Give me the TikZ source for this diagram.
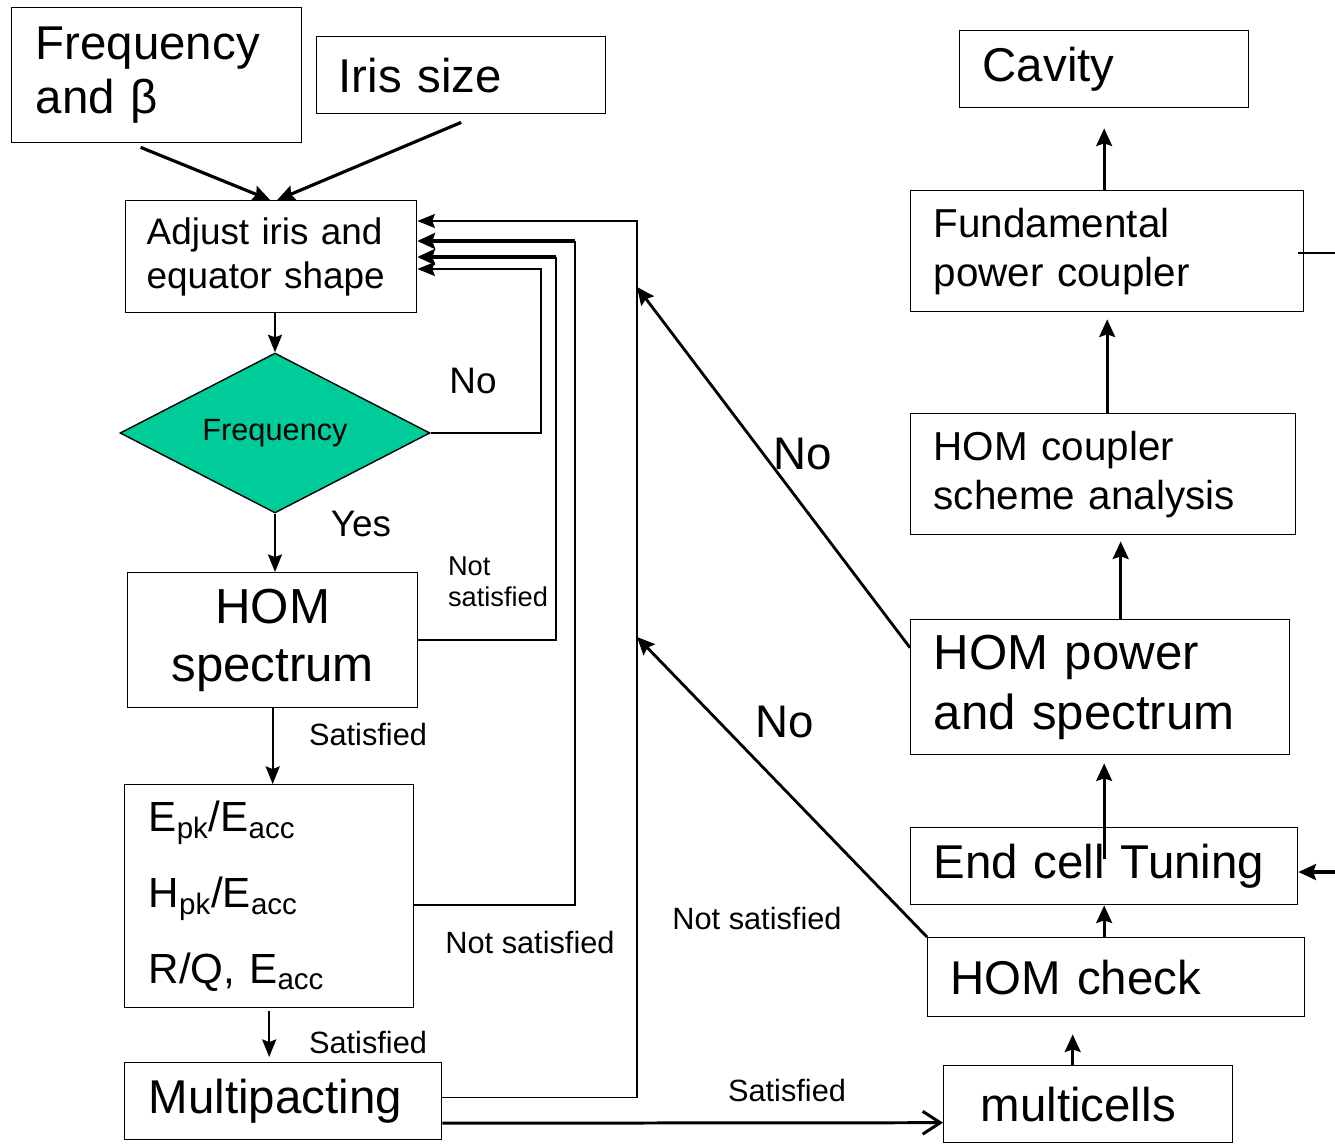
\documentclass[tikz,border=0pt]{standalone}
\usepackage{fontspec}
\setmainfont{Liberation Sans}
\usetikzlibrary{arrows.meta,positioning,shapes.geometric}
\definecolor{chkgreen}{RGB}{0,204,153}

\begin{document}
\begin{tikzpicture}
[x=0.02cm,y=-0.02cm,
box/.style={draw,line width=0.8pt,anchor=north west,align=left,inner ysep=0pt},
decision/.style={diamond,draw,fill=chkgreen,line width=0.8pt,aspect=1.94,minimum width=6.2cm,minimum height=3.2cm,inner sep=0pt,font=\fontsize{17.5}{20}\selectfont},
note/.style={inner sep=0pt,font=\fontsize{17.5}{20}\selectfont},
fb/.style={line width=0.8pt},
fbarrow/.style={line width=0.8pt,-{Stealth[length=10pt,width=8pt,inset=1.5pt]}},
go/.style={line width=1.8pt,-{Stealth[length=10pt,width=9pt,inset=1.5pt]}},
open/.style={line width=1.7pt,-{Straight Barb[length=10pt,width=13pt]}}]
\useasboundingbox (0,0) rectangle (1335,1143);

\node[box,text width=4.84cm,inner xsep=0.48cm,minimum height=2.7cm,font=\fontsize{27}{31}\selectfont] (freq) at (11,7) {Frequency\\and β};
\node[box,text width=4.9cm,inner xsep=0.44cm,minimum height=1.54cm,font=\fontsize{27}{31}\selectfont] (iris) at (316,36) {Iris size};
\node[box,text width=4.98cm,inner xsep=0.42cm,minimum height=2.24cm,font=\fontsize{21}{25}\selectfont] (adj) at (125,200) {Adjust iris and\\equator shape};
\node[decision] (fchk) at (275,433) {Frequency};
\node[box,align=center,minimum width=5.8cm,minimum height=2.7cm,font=\fontsize{28}{33}\selectfont] (homsp) at (127,572) {HOM\\spectrum};
\node[box,text width=4.82cm,inner xsep=0.48cm,minimum height=4.46cm,font=\fontsize{24}{43}\selectfont] (ratio) at (124,784)
  {E\textsubscript{pk}/E\textsubscript{acc}\\H\textsubscript{pk}/E\textsubscript{acc}\\R/Q, E\textsubscript{acc}};
\node[box,text width=5.38cm,inner xsep=0.48cm,minimum height=1.54cm,font=\fontsize{27}{31}\selectfont] (mp) at (124,1062) {Multipacting};

\node[box,text width=4.3cm,inner xsep=0.74cm,minimum height=1.54cm,font=\fontsize{27}{31}\selectfont] (mcell) at (943,1065) {multicells};
\node[box,text width=6.62cm,inner xsep=0.46cm,minimum height=1.58cm,font=\fontsize{27}{31}\selectfont] (homchk) at (927,937) {HOM check};
\node[box,text width=6.82cm,inner xsep=0.46cm,minimum height=1.54cm,font=\fontsize{27}{31}\selectfont] (endcell) at (910,827) {End cell Tuning};
\node[box,text width=6.66cm,inner xsep=0.46cm,minimum height=2.7cm,font=\fontsize{28}{34}\selectfont] (hompw) at (910,619) {HOM power\\and spectrum};
\node[box,text width=6.78cm,inner xsep=0.46cm,minimum height=2.42cm,font=\fontsize{23}{28}\selectfont] (homcpl) at (910,413) {HOM coupler\\scheme analysis};
\node[box,text width=6.94cm,inner xsep=0.46cm,minimum height=2.42cm,font=\fontsize{23}{28}\selectfont] (fpc) at (910,190) {Fundamental\\power coupler};
\node[box,text width=4.86cm,inner xsep=0.46cm,minimum height=1.54cm,font=\fontsize{27}{31}\selectfont] (cav) at (959,30) {Cavity};

\node[note,font=\fontsize{21}{24}\selectfont] (no1) at (473,381) {No};
\node[note,font=\fontsize{21}{24}\selectfont] (yes) at (361,524) {Yes};
\node[note,align=left,font=\fontsize{15.5}{17.6}\selectfont] (ns1) at (498,582) {Not\\satisfied};
\node[note] (sat1) at (368,734) {Satisfied};
\node[note] (ns2) at (530,942) {Not satisfied};
\node[note] (sat2) at (368,1042) {Satisfied};
\node[note] (sat3) at (787,1090) {Satisfied};
\node[note] (ns3) at (757,918) {Not satisfied};
\node[note,font=\fontsize{26}{30}\selectfont] (no2) at (803,454) {No};
\node[note,font=\fontsize{26}{30}\selectfont] (no3) at (785,722) {No};

\coordinate (r1) at (541,269);
\coordinate (r2) at (556,257);
\coordinate (r3) at (575,241);
\coordinate (r4) at (637,221);
\coordinate (n1) at (637,287);
\coordinate (n2) at (637,637);
\coordinate (ext1) at (1335,253);
\coordinate (ext2) at (1335,872);

\draw[go] ([xshift=-0.32cm,yshift=-0.08cm]freq.south) -- ([xshift=-0.02cm]adj.north);
\draw[go] ([yshift=-0.16cm]iris.south) -- ([xshift=0.12cm]adj.north);
\draw[fbarrow,line width=1.2pt] (fchk.north |- adj.south) -- (fchk.north);
\draw[fbarrow,line width=1.2pt] (fchk.south) -- (fchk.south |- homsp.north);
\draw[fbarrow,line width=1.2pt] (homsp.south) -- (homsp.south |- ratio.north);
\draw[fbarrow,line width=1.2pt,shorten <=0.06cm,shorten >=0.1cm] (ratio.south) -- (ratio.south |- mp.north);

\draw[fbarrow] (fchk.east) -| (r1) -- (adj.east |- r1);
\draw[fb] (homsp.east) -| (r2);
\draw[go,line width=2.2pt] (r2) -- (adj.east |- r2);
\draw[fb] ([yshift=-0.18cm]ratio.east) -| (r3);
\draw[go,line width=2.2pt] (r3) -- (adj.east |- r3);
\draw[fbarrow] ([yshift=0.07cm]mp.east) -| (r4) -- (adj.east |- r4);
\draw[open] ([yshift=-0.44cm]mp.east) -- ([yshift=-0.37cm]mcell.west);

\draw[go,line width=1.6pt] (homchk.north west) -- (n2);
\draw[go,line width=1.6pt] ([yshift=0.79cm]hompw.west) -- (n1);

\draw[go,shorten >=0.34cm] ([xshift=-0.31cm]mcell.north) -- ([xshift=-0.31cm]mcell.north |- homchk.south);
\draw[go] (endcell.south |- homchk.north) -- (endcell.south);
\draw[go,shorten >=0.16cm] ([yshift=0.15cm]endcell.center) -- (endcell.center |- hompw.south);
\draw[go,shorten >=0.12cm] ([xshift=0.41cm]hompw.north) -- ([xshift=0.41cm]hompw.north |- homcpl.south);
\draw[go,shorten >=0.14cm] (fpc.south |- homcpl.north) -- (fpc.south);
\draw[go,shorten >=0.4cm] (cav.south |- fpc.north) -- (cav.south);
\draw[go] (ext2) -- (endcell.east |- ext2);
\draw[fb] ([xshift=-0.12cm]fpc.east |- ext1) -- (ext1);
\end{tikzpicture}
\end{document}
